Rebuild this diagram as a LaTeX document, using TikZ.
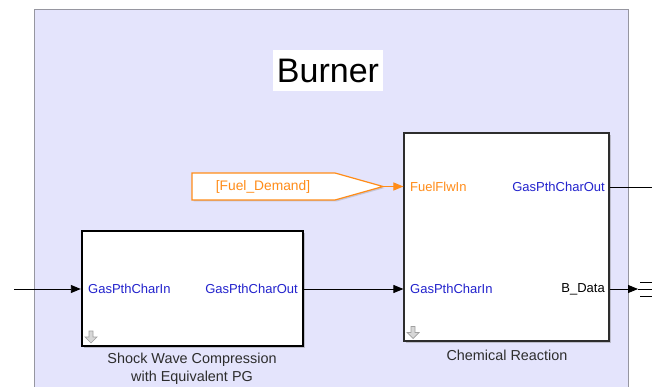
\documentclass[tikz,border=0pt]{standalone}
\usepackage{fontspec}
\setmainfont{Liberation Sans}
\usetikzlibrary{arrows.meta,shadows}
\definecolor{lav}{RGB}{228,228,252}
\definecolor{lavedge}{RGB}{150,150,160}
\definecolor{portblue}{RGB}{35,35,205}
\definecolor{sorange}{RGB}{255,140,25}
\definecolor{lbl}{RGB}{45,45,45}
\definecolor{icongray}{RGB}{160,160,160}
\definecolor{iconfill}{RGB}{215,215,215}
\definecolor{chemedge}{RGB}{45,45,45}
\begin{document}
\begin{tikzpicture}[x=1pt,y=-1pt,
  blk/.style={draw=black, fill=white, inner sep=0pt,
    drop shadow={shadow xshift=2pt, shadow yshift=-2pt, opacity=.4, fill=gray}},
  portl/.style={anchor=west, inner sep=0pt, text=portblue, font=\fontsize{13}{15}\selectfont},
  portr/.style={anchor=east, inner sep=0pt, text=portblue, font=\fontsize{13}{15}\selectfont},
  blklbl/.style={text=lbl, align=center, inner sep=0pt, font=\fontsize{14.4}{18}\selectfont},
  wire/.style={draw=black, line width=0.9pt},
  tip/.style={-{Triangle[length=10pt,width=8pt]}},
  dnicon/.pic={\draw[icongray, fill=iconfill, line width=0.7pt, line join=miter]
     (-2,0)--(2,0)--(2,6)--(6,6)--(0,12)--(-6,6)--(-2,6)--cycle;}
]
\useasboundingbox (0,0) rectangle (652,387);
% subsystem background
\fill[lav] (34,10) rectangle (628,390);
\draw[lavedge, line width=1pt] (34,390) -- (34,10) -- (628,10) -- (628,390);
% title
\node[fill=white, minimum width=110pt, minimum height=41pt, inner sep=0pt,
      font=\fontsize{34}{40}\selectfont] (title) at (328,70.5) {Burner};
% blocks
\node[blk, line width=2.4pt, minimum width=221pt, minimum height=115pt] (shock) at (192.5,288.5) {};
\node[blk, draw=chemedge, line width=1.2pt, minimum width=205pt, minimum height=208pt] (chem) at (506.5,237) {};
% icons
\pic at (91,331) {dnicon};
\pic at (413,326.5) {dnicon};
% port labels
\node[portl] (sin) at (88,289) {GasPthCharIn};
\node[portr] (sout) at (298,289) {GasPthCharOut};
\node[portl, text=sorange] (cfuel) at (410,187) {FuelFlwIn};
\node[portl] (cin) at (410,289) {GasPthCharIn};
\node[portr] (cout) at (605,187) {GasPthCharOut};
\node[portr, text=black] (cdata) at (605,289) {B\_Data};
% block labels
\node[blklbl] (shocklbl) at (192,369) {Shock Wave Compression\\with Equivalent PG};
\node[blklbl] (chemlbl) at (507,355) {Chemical Reaction};
% goto tag
\draw[sorange, fill=white, line width=1.2pt, line join=miter,
      drop shadow={shadow xshift=1.5pt, shadow yshift=-1.5pt, opacity=.3, fill=gray}]
  (192,173) -- (335,173) -- (383,186.5) -- (335,200) -- (192,200) -- cycle;
\node[text=sorange, inner sep=0pt, font=\fontsize{13.8}{16}\selectfont] (goto) at (263,186.5) {[Fuel\_Demand]};
\coordinate (gototip) at (383,186.5);
% connector coordinates
\coordinate (inend) at (14,289);
\coordinate (shockin) at (shock.west |- 0,289);
\coordinate (shockout) at (shock.east |- 0,289);
\coordinate (chemfuel) at (chem.west |- 0,186.5);
\coordinate (chemin) at (chem.west |- 0,289);
\coordinate (chemout) at (chem.east |- 0,187);
\coordinate (chemdata) at (chem.east |- 0,289);
\coordinate (outend) at (652,187);
\coordinate (datatip) at (638,289);
% wires
\draw[wire, tip] (inend) -- (shockin);
\draw[wire, tip] (shockout) -- (chemin);
\draw[sorange, line width=1.1pt, tip] (gototip) -- (chemfuel);
\draw[wire] (chemout) -- (outend);
\draw[wire, tip] (chemdata) -- (datatip);
% partially visible block at the right edge
\draw[black, line width=0.9pt] (640,282) -- (652,282);
\draw[black, line width=0.9pt] (638,289) -- (652,289);
\draw[black, line width=0.9pt] (640,296.5) -- (652,296.5);
\end{tikzpicture}
\end{document}
